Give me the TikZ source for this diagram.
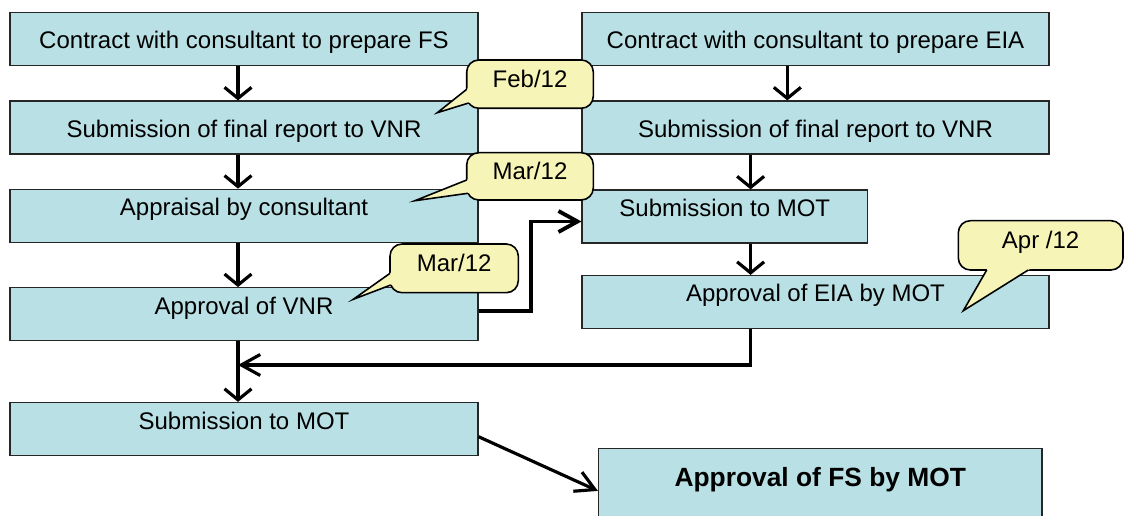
\documentclass[tikz,border=0pt]{standalone}
\usepackage{fontspec}
\setmainfont{Liberation Sans}
\usetikzlibrary{arrows.meta,calc}

\definecolor{boxblue}{HTML}{B9E0E4}
\definecolor{noteyellow}{HTML}{F7F4B8}

\begin{document}
\begin{tikzpicture}[x=0.02cm, y=-0.02cm,
    box/.style={draw=black!85, line width=0.7pt, fill=boxblue, minimum height=1.06cm, inner sep=0pt,
        font=\fontsize{13.66}{16}\selectfont, text height=0.34cm, text depth=0.1cm},
    lowtext/.style={text height=0.5cm},
    hightext/.style={text depth=0.34cm},
    bubble/.style={draw=black, line width=0.9pt, fill=noteyellow, rounded corners=0.24cm, inner sep=0pt,
        font=\fontsize{13.66}{16}\selectfont, text height=0.34cm, text depth=0.2cm},
    flow/.style={line width=1.8pt, -{Straight Barb[length=0.22cm, width=0.54cm]}},
    sideflow/.style={line width=1.8pt, -{Straight Barb[length=0.38cm, width=0.42cm]}}]
    \useasboundingbox (0,0) rectangle (1124,516);

    % FS column
    \node[box, lowtext, minimum width=9.36cm] (fscontract) at (244,39) {Contract with consultant to prepare FS};
    \node[box, lowtext, minimum width=9.36cm] (fsreport) at (244,127.5) {Submission of final report to VNR};
    \node[box, hightext, minimum width=9.36cm] (appraisal) at (244,215.75) {Appraisal by consultant};
    \node[box, hightext, minimum width=9.36cm] (vnrok) at (244,314.2) {Approval of VNR};
    \node[box, hightext, minimum width=9.36cm] (fsmot) at (244,429) {Submission to MOT};

    % EIA column
    \node[box, lowtext, minimum width=9.34cm] (eiacontract) at (815.5,39) {Contract with consultant to prepare EIA};
    \node[box, lowtext, minimum width=9.34cm] (eiareport) at (815.5,127.5) {Submission of final report to VNR};
    \node[box, hightext, minimum width=5.71cm] (eiamot) at (724.8,216.5) {Submission to MOT};
    \node[box, hightext, minimum width=9.34cm] (eiaok) at (815.5,302) {Approval of EIA by MOT};

    % Final approval (runs off the bottom edge)
    \node[box, minimum width=8.87cm, minimum height=1.434cm, text depth=0.26cm,
        font=\fontsize{15}{18}\selectfont\bfseries] (fsok) at (820.25,484.2) {Approval of FS by MOT};

    % Arrow columns
    \coordinate (lx) at (238,0);
    \coordinate (rxa) at (787.3,0);
    \coordinate (rxb) at (750.6,0);
    \coordinate (join) at (238,365);

    \draw[flow] (fscontract.south -| lx) -- (fsreport.north -| lx);
    \draw[flow] (fsreport.south -| lx) -- (appraisal.north -| lx);
    \draw[flow] (appraisal.south -| lx) -- (vnrok.north -| lx);
    \draw[flow] (vnrok.south -| lx) -- (fsmot.north -| lx);

    \draw[flow] (eiacontract.south -| rxa) -- (eiareport.north -| rxa);
    \draw[flow] (eiareport.south -| rxb) -- (eiamot.north -| rxb);
    \draw[flow] (eiamot.south -| rxb) -- (eiaok.north -| rxb);

    % Cross links
    \draw[sideflow] (eiaok.south -| rxb) |- (join);
    \draw[sideflow, line width=2.2pt] ([yshift=0.07cm]vnrok.east) -- ++(52,0) |- ([yshift=-0.1cm]eiamot.west);
    \draw[sideflow] ([yshift=-0.154cm]fsmot.east) -- ([yshift=-0.134cm]fsok.west);

    % Date callouts
    \node[bubble, minimum width=2.532cm, minimum height=0.966cm] (feb) at (530,84.15) {Feb/12};
    \coordinate (febtip) at (437.3,112.7);
    \coordinate (feba) at (466.7,89.3);
    \coordinate (febb) at (468.7,103);
    \fill[noteyellow] ($(febtip)!1.15!(feba)$) -- (febtip) -- ($(febtip)!1.15!(febb)$) -- cycle;
    \draw[line width=0.9pt] (feba) -- (febtip) -- (febb);

    \node[bubble, minimum width=2.532cm, minimum height=0.946cm] (mara) at (530,176.35) {Mar/12};
    \coordinate (maratip) at (415,200.7);
    \coordinate (maraa) at (466.7,180);
    \coordinate (marab) at (467.9,193.3);
    \fill[noteyellow] ($(maratip)!1.15!(maraa)$) -- (maratip) -- ($(maratip)!1.15!(marab)$) -- cycle;
    \draw[line width=0.9pt] (maraa) -- (maratip) -- (marab);

    \node[bubble, minimum width=2.566cm, minimum height=0.974cm] (marb) at (454.15,268.35) {Mar/12};
    \coordinate (marbtip) at (353.3,299.3);
    \coordinate (marba) at (390,273.3);
    \coordinate (marbb) at (390.8,285);
    \fill[noteyellow] ($(marbtip)!1.15!(marba)$) -- (marbtip) -- ($(marbtip)!1.15!(marbb)$) -- cycle;
    \draw[line width=0.9pt] (marba) -- (marbtip) -- (marbb);

    \node[bubble, minimum width=3.294cm, minimum height=0.986cm] (apr) at (1040.65,245.35) {Apr /12};
    \coordinate (aprtip) at (963.3,310.7);
    \coordinate (apra) at (986.7,270);
    \coordinate (aprb) at (1028.3,270);
    \fill[noteyellow] ($(aprtip)!1.15!(apra)$) -- (aprtip) -- ($(aprtip)!1.15!(aprb)$) -- cycle;
    \draw[line width=0.9pt] (apra) -- (aprtip) -- (aprb);
\end{tikzpicture}
\end{document}
